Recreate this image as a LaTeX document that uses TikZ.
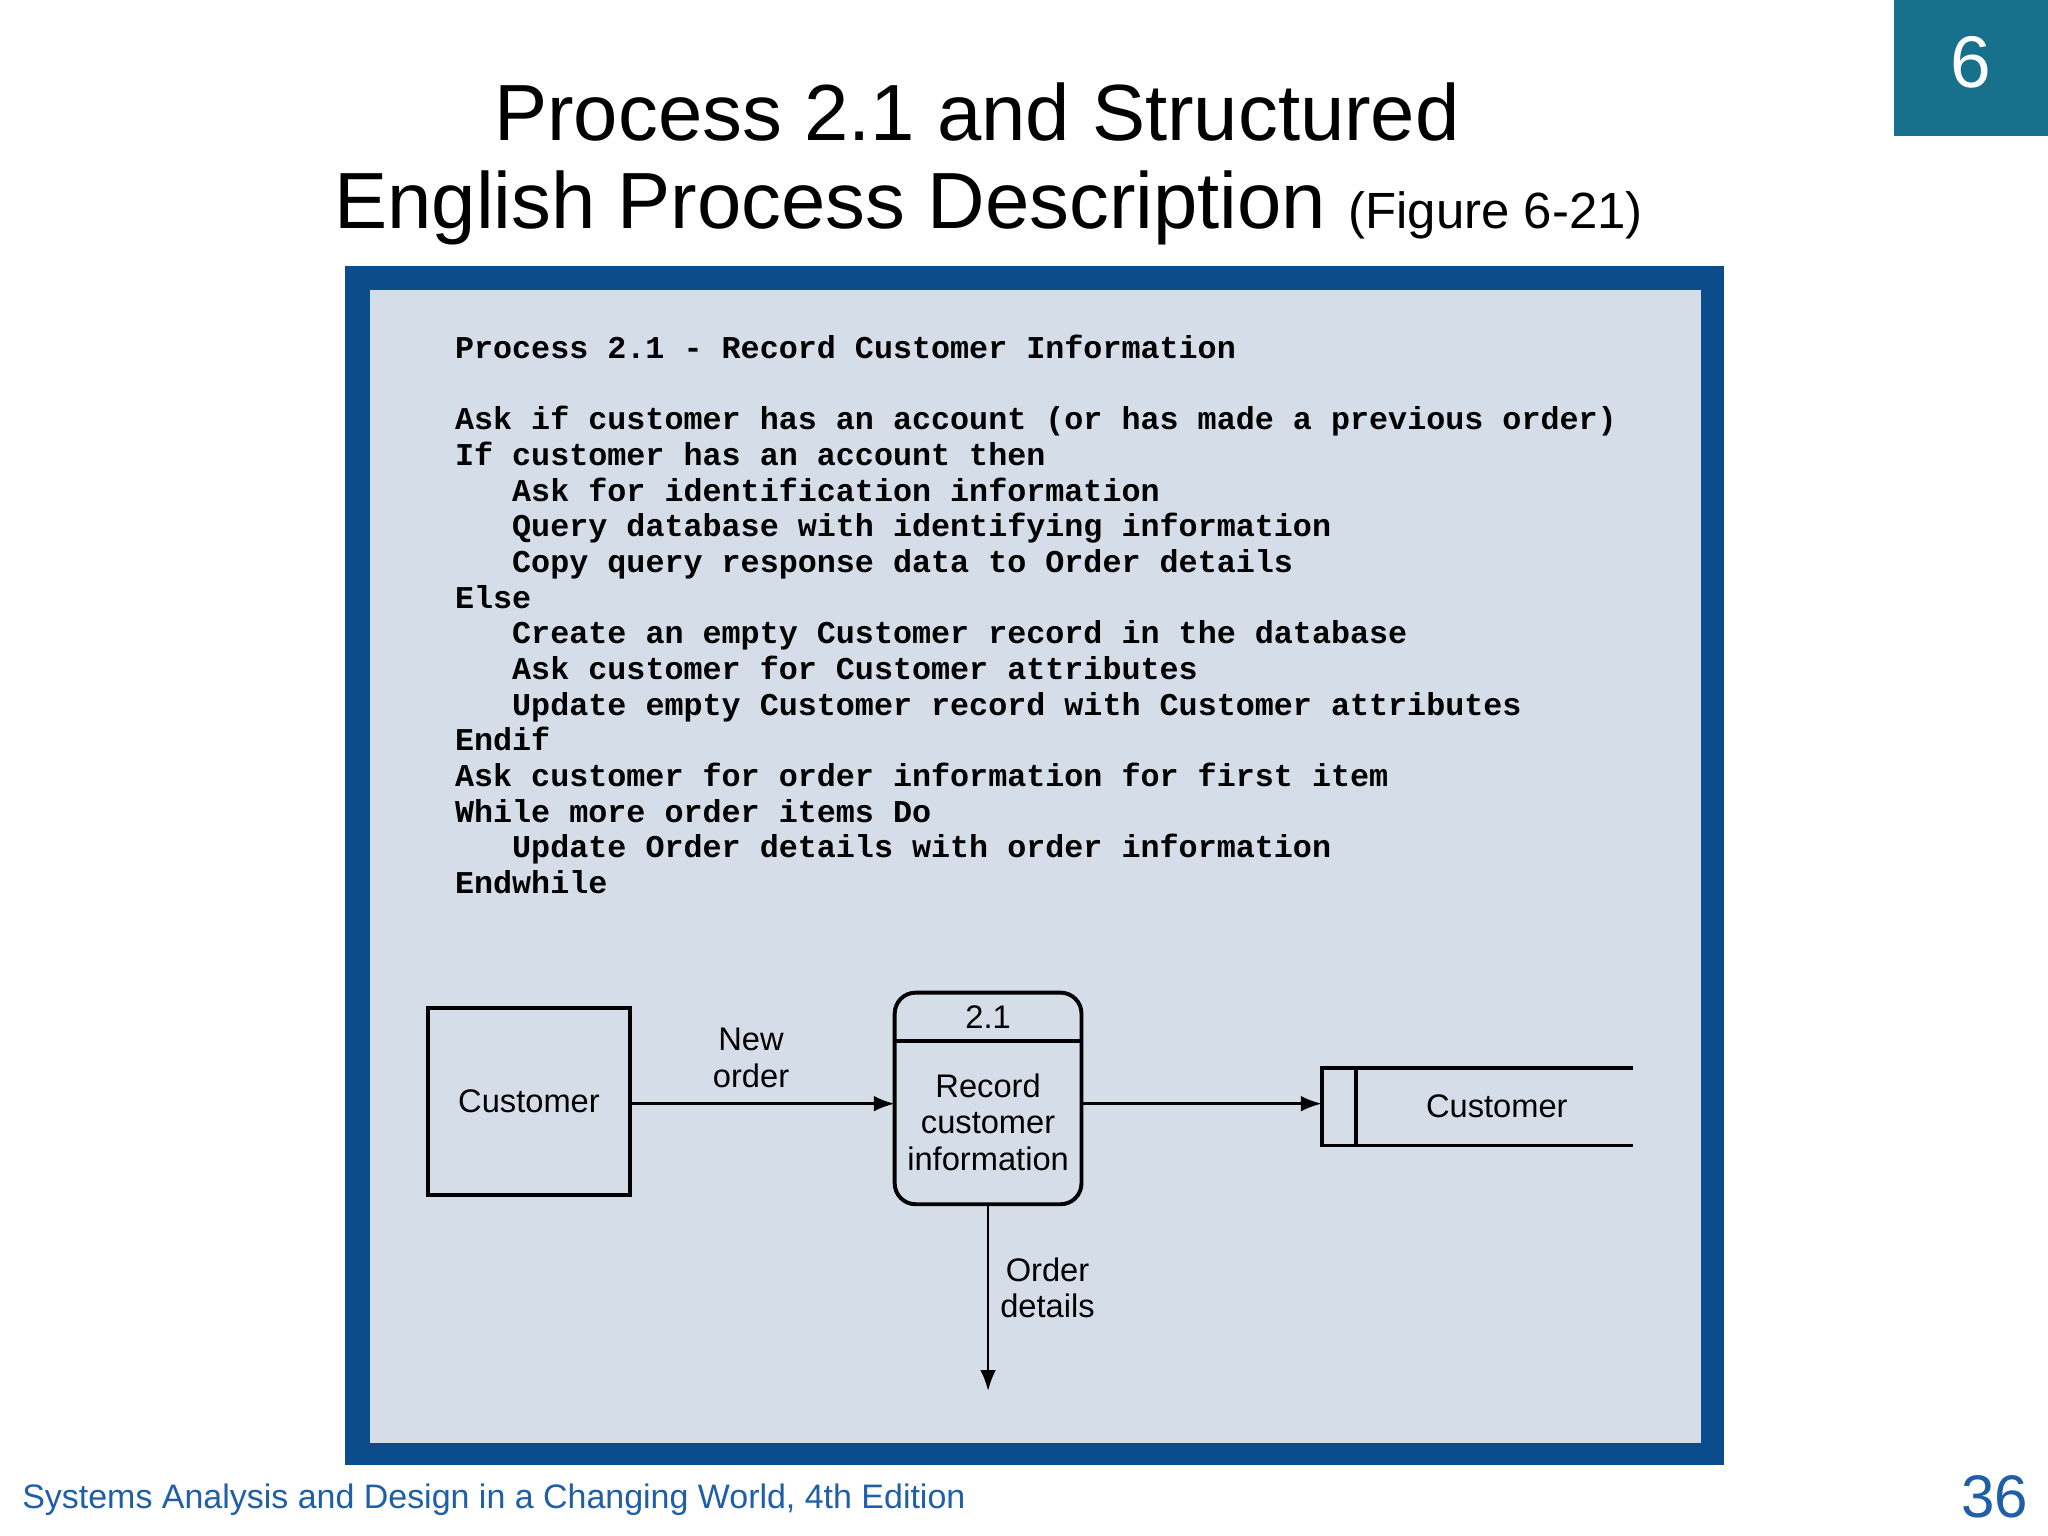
\documentclass[tikz,border=0pt]{standalone}
\usepackage{fontspec}
\setmainfont{Liberation Sans}
\newfontfamily\monof{Liberation Mono}
\usetikzlibrary{arrows.meta}
\definecolor{teal6}{HTML}{17708C}
\definecolor{frameblue}{HTML}{0B4D8C}
\definecolor{panel}{HTML}{D5DDE8}
\definecolor{footblue}{HTML}{1F5FA8}
\tikzset{
  box/.style={draw,line width=1.5pt},
  flow/.style={line width=1pt,-{Latex[length=8pt,width=6pt]}},
  lbl/.style={font=\fontsize{12.5}{14}\selectfont,align=center},
  code/.style={font=\monof\bfseries\fontsize{12.15}{13.65}\selectfont,anchor=west,inner sep=0pt}
}
\begin{document}
\begin{tikzpicture}[x=0.5pt,y=-0.5pt]
\useasboundingbox (0,0) rectangle (1568,1176);
\fill[white] (0,0) rectangle (1568,1176);
\fill[teal6] (1450,0) rectangle (1568,104);
\node[white,font=\fontsize{28}{30}\selectfont] (six) at (1509,48) {6};
\node[font=\fontsize{30.5}{33}\selectfont] (t1) at (748,86) {Process 2.1 and Structured};
\node[font=\fontsize{30.5}{33}\selectfont] (t2) at (757,159) {English Process Description {\fontsize{19.5}{22}\selectfont(Figure 6-21)}};
\fill[frameblue] (264,204) rectangle (1320,1122);
\fill[panel] (283,222) rectangle (1302,1105);
\foreach \t [count=\i from 0] in {
 {Process 2.1 - Record Customer Information},
 {},
 {Ask if customer has an account (or has made a previous order)},
 {If customer has an account then},
 {\ \ \ Ask for identification information},
 {\ \ \ Query database with identifying information},
 {\ \ \ Copy query response data to Order details},
 {Else},
 {\ \ \ Create an empty Customer record in the database},
 {\ \ \ Ask customer for Customer attributes},
 {\ \ \ Update empty Customer record with Customer attributes},
 {Endif},
 {Ask customer for order information for first item},
 {While more order items Do},
 {\ \ \ Update Order details with order information},
 {Endwhile}}
 \node[code] (c\i) at (348,{269+27.3*\i}) {\strut\t};
% DFD
\node[box,draw,minimum width=77pt,minimum height=71.5pt,lbl] (cust) at (405,843.5) {Customer};
\draw[box,rounded corners=8pt] (685,760) rectangle (828,922);
\draw[line width=1.5pt] (685,797) -- (828,797);
\node[lbl] (pid) at (756.5,779) {2.1};
\node[lbl] (proc) at (756.5,859) {Record\\customer\\information};
\coordinate (pW) at (685,845);
\coordinate (pE) at (828,845);
\coordinate (pS) at (756.5,922);
\draw[line width=1.5pt] (1250,818) -- (1012,818) -- (1012,877) -- (1250,877);
\draw[line width=1.5pt] (1038,818) -- (1038,877);
\node[lbl] (store) at (1146,847) {Customer};
\coordinate (sW) at (1012,845);
\coordinate (od) at (756.5,1065);
\draw[flow] (cust.east |- pW) -- (pW);
\node[lbl] (no) at (575,810) {New\\order};
\draw[flow] (pE) -- (sW);
\draw[flow] (pS) -- (od);
\node[lbl] (odl) at (802,986) {Order\\details};
\node[footblue,anchor=west,font=\fontsize{13}{15}\selectfont] (foot) at (10,1148) {Systems Analysis and Design in a Changing World, 4th Edition};
\node[footblue,font=\fontsize{23}{25}\selectfont] (pg) at (1527,1146) {36};
\end{tikzpicture}
\end{document}
